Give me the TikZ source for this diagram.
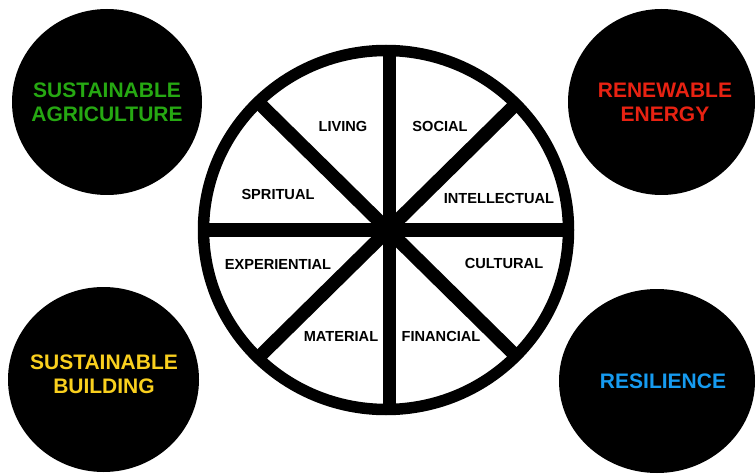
\documentclass[tikz,border=0pt]{standalone}
\usepackage{fontspec}
\setmainfont{Liberation Sans}
\definecolor{agrgreen}{RGB}{38,168,18}
\definecolor{enred}{RGB}{232,34,18}
\definecolor{buildyellow}{RGB}{250,208,30}
\definecolor{resblue}{RGB}{22,155,240}
\begin{document}
\begin{tikzpicture}[x=1pt,y=-1pt,
  bigcirc/.style={fill=black,draw=none},
  bigtext/.style={font=\fontsize{21}{24}\selectfont\bfseries,align=center,inner sep=0pt},
  wheellbl/.style={font=\fontsize{14.6}{17}\selectfont\bfseries,text=black,inner sep=0pt,text height=10.4pt,text depth=0pt},
  spoke/.style={line width=13.5pt,black},
  rim/.style={line width=11.5pt,black}]
\useasboundingbox (0,0) rectangle (756,476);
\fill[white] (0,0) rectangle (756,476);
% outer circles
\fill[bigcirc] (107,102) ellipse [x radius=95,y radius=93];
\fill[bigcirc] (661.5,102) ellipse [x radius=93.5,y radius=93];
\fill[bigcirc] (103.5,379.5) ellipse [x radius=95.5,y radius=92.5];
\fill[bigcirc] (657,381) ellipse [x radius=98,y radius=92];
\node[bigtext,text=agrgreen] (agr) at (107,102.5) {SUSTAINABLE\\AGRICULTURE};
\node[bigtext,text=enred] (ren) at (665,102.5) {RENEWABLE\\ENERGY};
\node[bigtext,text=buildyellow] (bld) at (104,374.5) {SUSTAINABLE\\BUILDING};
\node[bigtext,text=resblue,text height=15pt,text depth=0pt] (res) at (663,381) {RESILIENCE};
% wheel
\coordinate (c) at (388,230);
\coordinate (vt) at (389.5,52);
\coordinate (vb) at (389.5,408);
\coordinate (hl) at (205,230);
\coordinate (hr) at (567,230);
\coordinate (ul) at (259,103);
\coordinate (ur) at (517,103);
\coordinate (ll) at (259,357);
\coordinate (lr) at (517,357);
\draw[spoke] (vt) -- (vb);
\draw[spoke] (hl) -- (hr);
\draw[spoke] (c) -- (ul);
\draw[spoke] (c) -- (ur);
\draw[spoke] (c) -- (ll);
\draw[spoke] (c) -- (lr);
\draw[rim] (386,230) ellipse [x radius=182.5,y radius=179.5];
% labels
\node[wheellbl] (living) at (343,126) {LIVING};
\node[wheellbl] (social) at (440,126) {SOCIAL};
\node[wheellbl] (spirit) at (278,194) {SPRITUAL};
\node[wheellbl] (intel) at (499,198) {INTELLECTUAL};
\node[wheellbl] (exper) at (278,264) {EXPERIENTIAL};
\node[wheellbl] (cult) at (504,263) {CULTURAL};
\node[wheellbl] (mat) at (341,336) {MATERIAL};
\node[wheellbl] (fin) at (441,336) {FINANCIAL};
\end{tikzpicture}
\end{document}
